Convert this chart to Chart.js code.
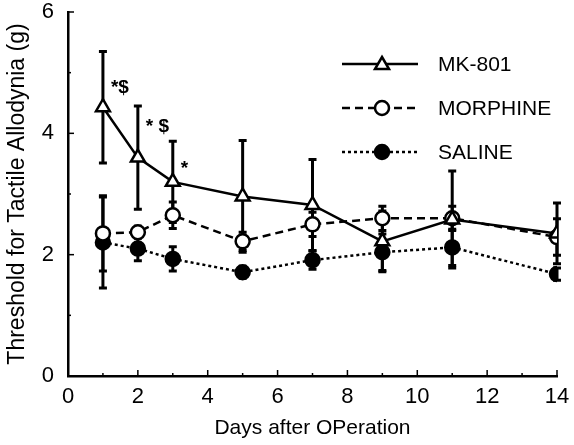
<!DOCTYPE html>
<html>
<head>
<meta charset="utf-8">
<script src="https://cdn.jsdelivr.net/npm/chart.js@4.4.0/dist/chart.umd.min.js"></script>
<style>
  html, body { margin: 0; padding: 0; background: #fff; }
  #wrap { width: 574px; height: 445px; }
</style>
</head>
<body>
<div id="wrap"><canvas id="allodyniaChart" width="574" height="445"></canvas></div>
<script>
// days after operation
const days = [1, 2, 3, 5, 7, 9, 11, 14];

// threshold values (g)
const mk801 = [4.43, 3.6, 3.2, 2.96, 2.82, 2.22, 2.58, 2.35];
const mk801Err = [0.92, 0.85, 0.67, 0.92, 0.75, 0.5, 0.8, 0.5];
const morphine = [2.35, 2.37, 2.65, 2.22, 2.5, 2.6, 2.6, 2.29];
const morphineErr = [0.62, 0.1, 0.22, 0.15, 0.2, 0.2, 0.2, 0.3];
const saline = [2.2, 2.1, 1.93, 1.71, 1.91, 2.04, 2.12, 1.68];
const salineErr = [0.75, 0.2, 0.2, 0.1, 0.15, 0.3, 0.3, 0.1];

// significance marks on MK-801 points
const mkNotes = ['*$', '* $', '*', '', '', '', '', ''];
const noteLift = [19, 31, 13, 0, 0, 0, 0, 0];

const xTicks = [0, 2, 4, 6, 8, 10, 12, 14];
const yTicks = [0, 2, 4, 6];

const FONT = '"Liberation Sans", Arial, sans-serif';

function pts(vals) {
    return days.map(function (d, i) { return { x: d, y: vals[i] }; });
}

// error bars, inward ticks, notes and legend
const extras = {
    id: 'extras',
    beforeDatasetsDraw: function (chart) {
        const ctx = chart.ctx;
        const xs = chart.scales.x, ys = chart.scales.y;
        const errs = [mk801Err, morphineErr, salineErr];
        ctx.save();
        ctx.strokeStyle = '#000';
        ctx.lineWidth = 3;
        chart.data.datasets.forEach(function (ds, k) {
            ds.data.forEach(function (p, i) {
                const px = xs.getPixelForValue(p.x);
                const top = ys.getPixelForValue(p.y + errs[k][i]);
                const bot = ys.getPixelForValue(p.y - errs[k][i]);
                ctx.beginPath();
                ctx.moveTo(px, top); ctx.lineTo(px, bot);
                ctx.moveTo(px - 4, top); ctx.lineTo(px + 4, top);
                ctx.moveTo(px - 4, bot); ctx.lineTo(px + 4, bot);
                ctx.stroke();
            });
        });
        ctx.restore();
    },
    afterDraw: function (chart) {
        const ctx = chart.ctx;
        const xs = chart.scales.x, ys = chart.scales.y;
        const a = chart.chartArea;
        ctx.save();
        ctx.strokeStyle = '#000';
        ctx.lineWidth = 1.5;
        // inward ticks
        for (let v = 0; v <= 6; v++) {
            const py = ys.getPixelForValue(v);
            ctx.beginPath();
            ctx.moveTo(a.left, py);
            ctx.lineTo(a.left + (v % 2 === 0 ? 6 : 3), py);
            ctx.stroke();
        }
        for (let d = 1; d <= 14; d++) {
            const px = xs.getPixelForValue(d);
            ctx.beginPath();
            ctx.moveTo(px, a.bottom);
            ctx.lineTo(px, a.bottom - (d % 2 === 0 ? 6 : 3));
            ctx.stroke();
        }
        // notes
        ctx.fillStyle = '#000';
        ctx.font = 'bold 19px ' + FONT;
        ctx.textBaseline = 'middle';
        mkNotes.forEach(function (t, i) {
            if (!t) return;
            const px = xs.getPixelForValue(days[i]);
            const py = ys.getPixelForValue(mk801[i]);
            ctx.fillText(t, px + 8, py - noteLift[i]);
        });
        // legend
        const names = ['MK-801', 'MORPHINE', 'SALINE'];
        const lx = a.left + 274, ly = a.top + 52;
        chart.data.datasets.forEach(function (ds, k) {
            const y = ly + k * 44;
            ctx.beginPath();
            ctx.setLineDash(ds.borderDash || []);
            ctx.lineWidth = 2.5;
            ctx.moveTo(lx, y); ctx.lineTo(lx + 76, y);
            ctx.stroke();
            ctx.setLineDash([]);
            const cx = lx + 40;
            ctx.beginPath();
            if (ds.pointStyle === 'triangle') {
                ctx.moveTo(cx, y - 7); ctx.lineTo(cx + 7, y + 5); ctx.lineTo(cx - 7, y + 5); ctx.closePath();
            } else {
                ctx.arc(cx, y, 7, 0, Math.PI * 2);
            }
            ctx.fillStyle = ds.pointBackgroundColor;
            ctx.fill();
            ctx.stroke();
            ctx.fillStyle = '#000';
            ctx.font = '21px ' + FONT;
            ctx.fillText(names[k], lx + 96, y + 1);
        });
        ctx.restore();
    }
};

new Chart(document.getElementById('allodyniaChart').getContext('2d'), {
    type: 'line',
    data: {
        datasets: [{
            label: 'MK-801',
            data: pts(mk801),
            borderColor: '#000',
            borderWidth: 2.5,
            pointStyle: 'triangle',
            pointRadius: 8,
            pointBorderWidth: 2.5,
            pointBackgroundColor: '#fff',
            pointBorderColor: '#000',
            tension: 0
        }, {
            label: 'MORPHINE',
            data: pts(morphine),
            borderColor: '#000',
            borderWidth: 2.5,
            borderDash: [8, 5],
            pointStyle: 'circle',
            pointRadius: 7,
            pointBorderWidth: 2.5,
            pointBackgroundColor: '#fff',
            pointBorderColor: '#000',
            tension: 0
        }, {
            label: 'SALINE',
            data: pts(saline),
            borderColor: '#000',
            borderWidth: 2.5,
            borderDash: [3, 3],
            pointStyle: 'circle',
            pointRadius: 7,
            pointBorderWidth: 2.5,
            pointBackgroundColor: '#000',
            pointBorderColor: '#000',
            tension: 0
        }]
    },
    options: {
        responsive: false,
        animation: false,
        layout: { padding: { left: 0, top: 12, right: 17, bottom: 0 } },
        plugins: { legend: { display: false }, tooltip: { enabled: false } },
        scales: {
            x: {
                type: 'linear',
                min: 0, max: 14,
                afterBuildTicks: function (s) { s.ticks = xTicks.map(function (v) { return { value: v }; }); },
                afterFit: function (s) { s.height = 69; },
                grid: { display: false },
                border: { display: true, color: '#000', width: 2.5 },
                ticks: { color: '#000', font: { family: FONT, size: 22 }, padding: 0, maxRotation: 0 },
                title: { display: true, text: 'Days after OPeration', color: '#000', font: { family: FONT, size: 21 }, padding: { top: 6 } }
            },
            y: {
                min: 0, max: 6,
                afterBuildTicks: function (s) { s.ticks = yTicks.map(function (v) { return { value: v }; }); },
                afterFit: function (s) { s.width = 68; s.paddingTop = 0; },
                grid: { display: false },
                border: { display: true, color: '#000', width: 2.5 },
                ticks: { color: '#000', font: { family: FONT, size: 22 }, padding: 6 },
                title: { display: true, text: 'Threshold for Tactile Allodynia (g)', color: '#000', font: { family: FONT, size: 23 }, padding: { bottom: 2 } }
            }
        }
    },
    plugins: [extras]
});
</script>
</body>
</html>
